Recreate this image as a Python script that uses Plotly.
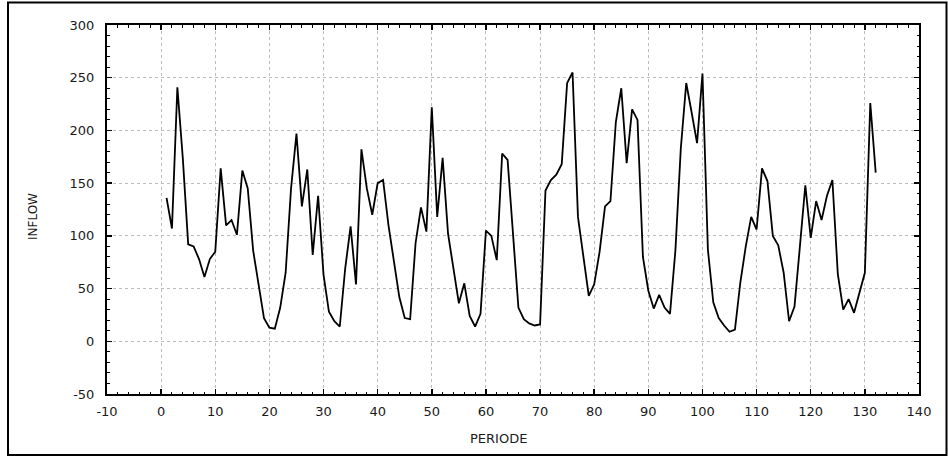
import plotly.graph_objects as go

periode = list(range(1, 133))
inflow = [
    136, 107, 241, 174, 92, 90, 78, 61, 78, 85,
    164, 110, 115, 101, 162, 145, 86, 52, 22, 13,
    12, 32, 65, 145, 197, 128, 163, 82, 138, 63,
    28, 19, 14, 69, 109, 54, 182, 145, 120, 150,
    153, 110, 78, 42, 22, 21, 93, 127, 104, 222,
    118, 174, 102, 68, 36, 55, 24, 14, 26, 105,
    100, 77, 178, 172, 100, 32, 21, 17, 15, 16,
    143, 153, 158, 168, 245, 255, 118, 82, 43, 54,
    85, 128, 133, 208, 240, 169, 220, 210, 80, 48,
    31, 44, 32, 26, 86, 183, 245, 217, 188, 254,
    87, 37, 22, 15, 9, 11, 56, 90, 118, 106,
    164, 152, 100, 91, 65, 19, 33, 90, 148, 98,
    133, 115, 138, 153, 64, 30, 40, 27, 45, 65,
    226, 160,
]
x_tick_vals = [-10, 0, 10, 20, 30, 40, 50, 60, 70, 80, 90, 100, 110, 120, 130, 140]
x_tick_text = ["-10", "0", "10", "20", "30", "40", "50", "60", "70", "80", "90",
               "100", "110", "120", "130", "140"]
y_tick_vals = [-50, 0, 50, 100, 150, 200, 250, 300]
y_tick_text = ["-50", "0", "50", "100", "150", "200", "250", "300"]
x_title = "PERIODE"
y_title = "INFLOW"

W, H = 948, 456
L, R, T, B = 107, 29, 25, 62
pw, ph = W - L - R, H - T - B

def px2paper_x(px):
    return (px - L) / pw

def px2paper_y(py):
    return (H - B - py) / ph

font_family = "DejaVu Sans, Arial, sans-serif"
txt_color = "#1a1a1a"

fig = go.Figure()
fig.add_trace(go.Scatter(
    x=periode, y=inflow, mode="lines",
    line=dict(color="#000000", width=1.8),
    showlegend=False, hoverinfo="skip",
))

axis_common = dict(
    showline=True, linecolor="#000000", linewidth=2, mirror="allticks",
    ticks="inside", ticklen=5, tickwidth=1.5, tickcolor="#000000",
    showgrid=True, gridcolor="#bcbcbc", griddash="dot", gridwidth=1,
    zeroline=False, automargin=False, fixedrange=True,
    tickfont=dict(family=font_family, size=13, color=txt_color),
)

fig.update_xaxes(
    range=[-10, 140], tickmode="array", tickvals=x_tick_vals, ticktext=x_tick_text,
    minor=dict(dtick=2, tick0=-10, ticks="inside", ticklen=2.5, tickcolor="#000000",
               tickwidth=1, showgrid=False),
    ticklabelstandoff=4,
    **axis_common,
)
fig.update_yaxes(
    range=[-50, 300], tickmode="array", tickvals=y_tick_vals, ticktext=y_tick_text,
    minor=dict(dtick=10, tick0=-50, ticks="inside", ticklen=2.5, tickcolor="#000000",
               tickwidth=1, showgrid=False),
    ticklabelstandoff=8,
    **axis_common,
)

fig.add_annotation(
    text=x_title, xref="paper", yref="paper",
    x=px2paper_x(498), y=px2paper_y(438), xanchor="center", yanchor="middle",
    showarrow=False, font=dict(family=font_family, size=13, color=txt_color),
)
fig.add_annotation(
    text=y_title, xref="paper", yref="paper",
    x=px2paper_x(33), y=px2paper_y(217), xanchor="center", yanchor="middle",
    textangle=-90,
    showarrow=False, font=dict(family=font_family, size=12, color=txt_color),
)

# outer frame
fig.add_shape(
    type="rect", xref="paper", yref="paper",
    x0=px2paper_x(8), x1=px2paper_x(946.5),
    y0=px2paper_y(455), y1=px2paper_y(2.5),
    line=dict(color="#000000", width=2), fillcolor="rgba(0,0,0,0)",
    layer="above",
)

fig.update_layout(
    width=W, height=H,
    margin=dict(l=L, r=R, t=T, b=B, pad=0),
    paper_bgcolor="#ffffff", plot_bgcolor="#ffffff",
    showlegend=False, hovermode=False,
)

fig.write_html(
    "out.html",
    config={"displayModeBar": False, "staticPlot": True},
    post_script="document.body.style.margin='0';document.body.style.overflow='hidden';",
)
